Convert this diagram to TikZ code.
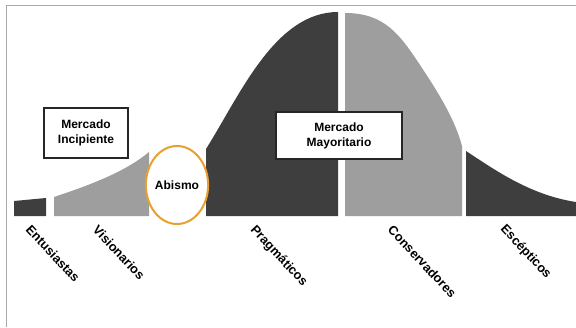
\documentclass[tikz,border=0pt]{standalone}
\usepackage{fontspec}
\setmainfont{Liberation Sans}
\usetikzlibrary{shapes.geometric}
\definecolor{darkseg}{HTML}{3E3E3E}
\definecolor{lightseg}{HTML}{9E9E9E}
\definecolor{framec}{HTML}{A8A8A8}
\definecolor{chasm}{HTML}{E8A030}
\begin{document}
\begin{tikzpicture}[x=1pt,y=-1pt,
  lab/.style={anchor=north west, rotate=-47, inner sep=0pt, font=\bfseries\fontsize{12.8}{14}\selectfont},
  mbox/.style={draw=black!85, line width=1.1pt, fill=white, align=center, inner sep=0pt,
    font=\bfseries\fontsize{12}{15}\selectfont},
  darkfill/.style={fill=darkseg},
  lightfill/.style={fill=lightseg}]
\useasboundingbox (0,0) rectangle (576,327);
\fill[white] (0,0) rectangle (576,327);
\draw[framec, line width=1pt] (6.5,327) -- (6.5,5.5) -- (576,5.5);
% segments
\fill[darkfill] (14,216) -- (14,201) -- (46,198) -- (46,216) -- cycle;
\fill[lightfill] (54,216) -- (54,197) .. controls (90,185) and (125,172) .. (149,152) -- (149,216) -- cycle;
\fill[darkfill] (206,216) -- (206,149) .. controls (240,95) and (275,12) .. (338,12) -- (338,216) -- cycle;
\fill[lightfill] (345,216) -- (345,13) .. controls (385,13) and (400,35) .. (420,65)
  .. controls (440,95) and (455,120) .. (462,146) -- (462,216) -- cycle;
\fill[darkfill] (466,216) -- (466,151) .. controls (495,170) and (530,195) .. (576,202) -- (576,216) -- cycle;
% chasm
\node[ellipse, draw=chasm, line width=2pt, fill=white, minimum width=58pt, minimum height=78pt,
  inner sep=0pt, font=\bfseries\fontsize{12}{14}\selectfont] (abismo) at (177,185) {Abismo};
% boxes
\node[mbox, minimum width=84pt, minimum height=50pt] (incip) at (86,133) {Mercado\\Incipiente};
\node[mbox, minimum width=126pt, minimum height=47pt] (mayor) at (339,135.5) {Mercado\\Mayoritario};
% labels
\node[lab] (entu) at (32,224) {Entusiastas};
\node[lab] (visi) at (99,224) {Visionarios};
\node[lab] (prag) at (257,224) {Pragmáticos};
\node[lab] (cons) at (394,224) {Conservadores};
\node[lab] (esce) at (507,223) {Escépticos};
\end{tikzpicture}
\end{document}
